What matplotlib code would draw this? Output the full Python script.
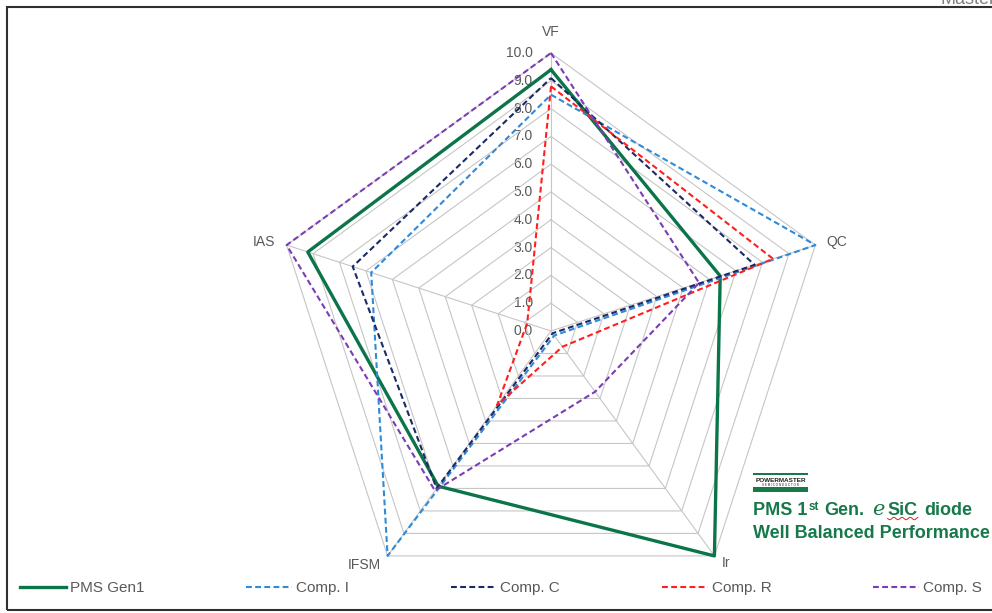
import numpy as np
import matplotlib
matplotlib.use("Agg")
import matplotlib.pyplot as plt
from matplotlib.patches import Rectangle
from matplotlib.lines import Line2D

plt.rcParams['font.family'] = ['Liberation Sans', 'DejaVu Sans']

# radar data, 0-10 scale
categories = ["VF", "QC", "Ir", "IFSM", "IAS"]
pms_gen1 = [9.4, 6.4, 10.0, 6.9, 9.2]
comp_i = [8.5, 10.0, 0.2, 10.0, 6.8]
comp_c = [9.1, 7.7, 0.1, 7.0, 7.5]
comp_r = [8.8, 8.4, 0.7, 3.3, 0.9]
comp_s = [10.0, 5.6, 2.7, 7.1, 10.0]
series_names = ["PMS Gen1", "Comp. I", "Comp. C", "Comp. R", "Comp. S"]
levels = np.arange(0, 11)

W, H = 992, 613
fig = plt.figure(figsize=(W / 100, H / 100), dpi=100)
fig.patch.set_facecolor('white')

# chart frame
fig.add_artist(Rectangle((7 / W, 3 / H), 993 / W, 603 / H, transform=fig.transFigure,
                         fill=False, ec='#303030', lw=1.5, clip_on=False))
fig.text(940 / W, 1 - 4 / H, "Master", color='#808080', fontsize=13, va='baseline')

cx, cy, rad = 551, 331, 278
ax = fig.add_axes([(cx - rad) / W, (H - cy - rad) / H, 2 * rad / W, 2 * rad / H],
                  projection='polar')
ax.set_theta_offset(np.pi / 2)
ax.set_theta_direction(-1)
ax.set_ylim(0, 10)
ax.grid(False)
ax.set_xticks([])
ax.set_yticks([])
ax.spines['polar'].set_visible(False)
ax.patch.set_visible(False)

angles = np.linspace(0, 2 * np.pi, len(categories), endpoint=False)
ring = np.append(angles, angles[0])

# pentagon grid and spokes
grid_kw = dict(color='#c6c6c6', lw=0.8, clip_on=False, zorder=1)
for lv in levels[1:]:
    ax.plot(ring, [lv] * len(ring), **grid_kw)
for a in angles:
    ax.plot([a, a], [0, 10], **grid_kw)

gray = '#595959'
for lv in levels:
    ax.annotate(f"{lv:.1f}", xy=(0, lv), xytext=(-13, 0), textcoords='offset points',
                ha='right', va='center', fontsize=10, color=gray, zorder=0)

label_pos = {
    "VF": ((0, 15), 'center', 'center'),
    "QC": ((7.6, 1.9), 'left', 'center'),
    "Ir": ((5.5, -5), 'left', 'center'),
    "IFSM": ((-5, -6.5), 'right', 'center'),
    "IAS": ((-8.4, 1.9), 'right', 'center'),
}
for a, cat in zip(angles, categories):
    off, ha, va = label_pos[cat]
    ax.annotate(cat, xy=(a, 10), xytext=off, textcoords='offset points',
                ha=ha, va=va, fontsize=10, color=gray)

dash = (0, (2.8, 1.6))
series = [
    (pms_gen1, '#0b7448', '-', 2.4),
    (comp_i, '#2f8ad8', dash, 1.5),
    (comp_c, '#1b2a66', dash, 1.5),
    (comp_r, '#ff1f1f', dash, 1.5),
    (comp_s, '#7a3db5', dash, 1.5),
]
handles = []
for (vals, color, ls, lw), name in zip(series, series_names):
    line, = ax.plot(ring, vals + vals[:1], color=color, ls=ls, lw=lw,
                    clip_on=False, zorder=3, label=name)
    handles.append(line)

fig.legend(handles=handles, labels=series_names, loc='center',
           bbox_to_anchor=(20 / W, 1 - 598 / H, 962 / W, 20 / H), mode='expand',
           ncol=5, frameon=False, borderpad=0, borderaxespad=0,
           handlelength=3.0, handletextpad=0.26, fontsize=11, labelcolor=gray)

# logo box
green = '#17784a'
fig.add_artist(Rectangle((752.7 / W, 1 - 475 / H), 55.6 / W, 2.5 / H,
                         transform=fig.transFigure, color=green, lw=0))
fig.add_artist(Rectangle((752.7 / W, 1 - 492 / H), 55.6 / W, 5 / H,
                         transform=fig.transFigure, color=green, lw=0))
fig.text(780.5 / W, 1 - 480.5 / H, "POWERMASTER", fontsize=4.6, fontweight='bold',
         color='#202020', ha='center', va='center')
fig.text(780.5 / W, 1 - 484.5 / H, "S E M I C O N D U C T O R", fontsize=2.2,
         color='#202020', ha='center', va='center')

# caption next to the logo
renderer = fig.canvas.get_renderer()


def put(s, x_px, y_px, **kw):
    t = fig.text(x_px / W, 1 - y_px / H, s, va='baseline', color=green, **kw)
    bb = t.get_window_extent(renderer)
    return bb, bb.x1


bold = dict(fontsize=13, fontweight='bold')
y1, y2 = 515, 538
bb, x = put("PMS 1", 753, y1, **bold)
bb, x = put("st", x + 1.5, y1 - 5, **dict(fontsize=8.5, fontweight='bold'))
bb, x = put("Gen.", x + 5, y1, **bold)
bb, x = put("e", x + 8, y1, fontsize=15, family='DejaVu Serif', style='italic')
bb, x = put("SiC", x + 3, y1, **bold)
squig = np.linspace(bb.x0, bb.x1, 40)
fig.add_artist(Line2D(squig / W, 1 - (518.5 + 1.2 * np.sin((squig - bb.x0) / 1.3)) / H,
                      transform=fig.transFigure, color='#e02020', lw=0.7))
bb, x = put("diode", x + 6, y1, **bold)
put("Well Balanced Performance", 753, y2, **bold)

fig.savefig("out.png", dpi=100, facecolor='white')
